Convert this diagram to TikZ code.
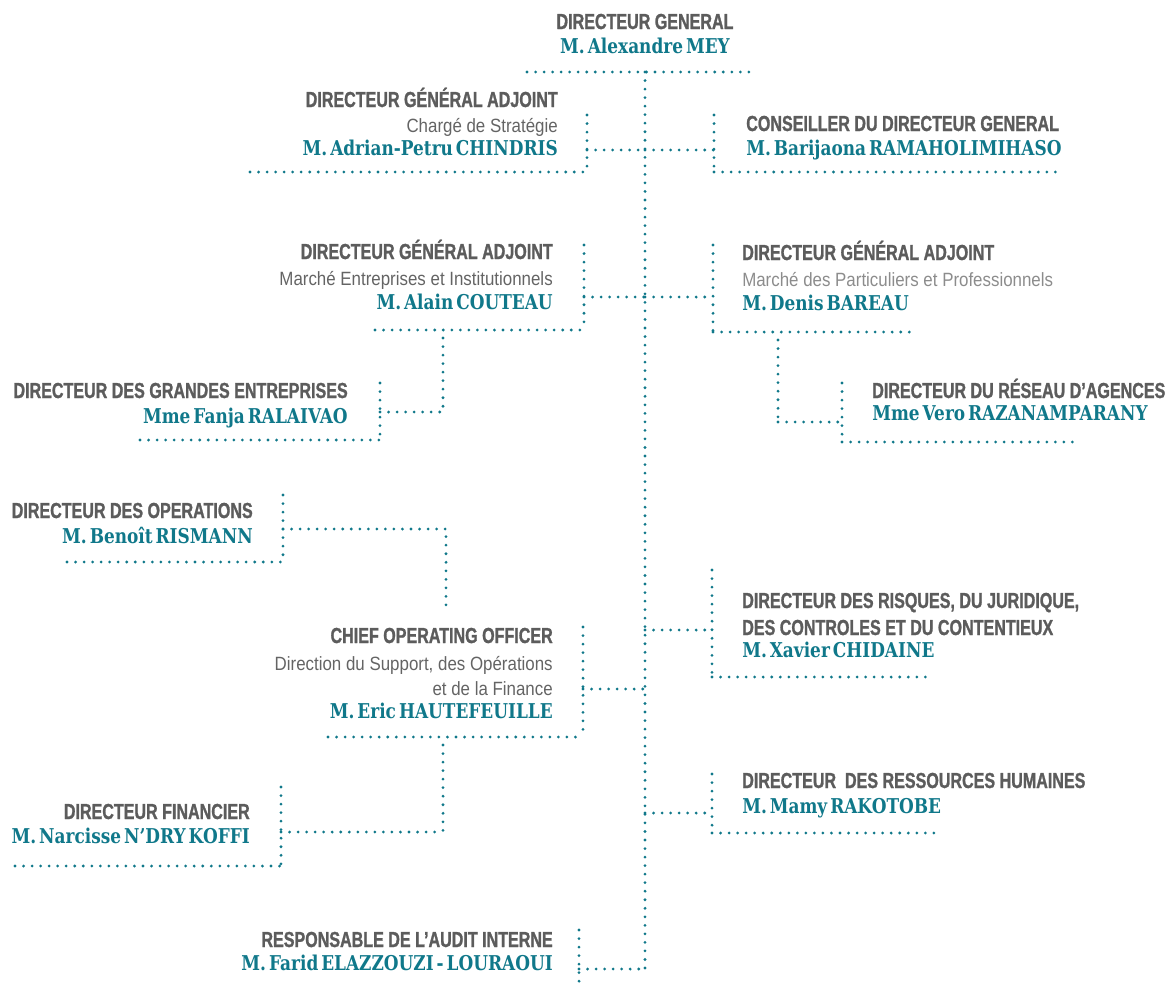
\documentclass[tikz,border=0pt]{standalone}
\usepackage{fontspec}
\newfontfamily\ttlfont[FakeStretch=0.74,FakeBold=1.2]{Liberation Sans Bold}
\newfontfamily\subfont[FakeStretch=0.88]{Liberation Sans}
\newfontfamily\nmfont[FakeStretch=0.83,WordSpace=0.5]{DejaVu Serif}
\definecolor{tealc}{RGB}{16,120,138}
\definecolor{ttlgray}{RGB}{92,92,92}
\definecolor{subgray}{RGB}{100,100,100}
\definecolor{litegray}{RGB}{140,140,140}
\tikzset{
  ttl/.style={inner sep=0pt, text=ttlgray, font=\ttlfont\fontsize{16.3}{18}\selectfont},
  sub/.style={inner sep=0pt, text=subgray, font=\subfont\fontsize{14.4}{16}\selectfont},
  sublite/.style={sub, text=litegray},
  nm/.style={inner sep=0pt, text=tealc, font=\nmfont\bfseries\fontsize{15.3}{17}\selectfont},
  L/.style={anchor=base east},
  R/.style={anchor=base west},
  dl/.style={draw=tealc, line width=2.3pt, dash pattern=on 0pt off 6.4pt, line cap=round}
}
\begin{document}
\begin{tikzpicture}[x=0.75pt,y=-0.75pt]
\useasboundingbox (0,0) rectangle (1167,986);
% ---------- texts ----------
\node[ttl,anchor=base] (dgT) at (645,29) {DIRECTEUR GENERAL};
\node[nm,anchor=base] (dgN) at (645,53) {M. Alexandre MEY};

\node[ttl,L] (a1T) at (558,107) {DIRECTEUR GÉNÉRAL ADJOINT};
\node[sub,L] (a1S) at (558,132) {Chargé de Stratégie};
\node[nm,L] (a1N) at (558,155) {M. Adrian-Petru CHINDRIS};

\node[ttl,R] (cT) at (746,131) {CONSEILLER DU DIRECTEUR GENERAL};
\node[nm,R] (cN) at (746,155) {M. Barijaona RAMAHOLIMIHASO};

\node[ttl,L] (a2T) at (553,259) {DIRECTEUR GÉNÉRAL ADJOINT};
\node[sub,L] (a2S) at (553,285) {Marché Entreprises et Institutionnels};
\node[nm,L] (a2N) at (553,309) {M. Alain COUTEAU};

\node[ttl,R] (a3T) at (742,260) {DIRECTEUR GÉNÉRAL ADJOINT};
\node[sublite,R] (a3S) at (742,286) {Marché des Particuliers et Professionnels};
\node[nm,R] (a3N) at (742,310) {M. Denis BAREAU};

\node[ttl,R] (rT) at (872,398) {DIRECTEUR DU RÉSEAU D’AGENCES};
\node[nm,R] (rN) at (872,420) {Mme Vero RAZANAMPARANY};

\node[ttl,L] (gT) at (348,398) {DIRECTEUR DES GRANDES ENTREPRISES};
\node[nm,L] (gN) at (348,423) {Mme Fanja RALAIVAO};

\node[ttl,L] (oT) at (253,518) {DIRECTEUR DES OPERATIONS};
\node[nm,L] (oN) at (253,543) {M. Benoît RISMANN};

\node[ttl,L] (cooT) at (553,643) {CHIEF OPERATING OFFICER};
\node[sub,L] (cooS1) at (553,670) {Direction du Support, des Opérations};
\node[sub,L] (cooS2) at (553,695) {et de la Finance};
\node[nm,L] (cooN) at (553,718) {M. Eric HAUTEFEUILLE};

\node[ttl,R] (jT1) at (742,608) {DIRECTEUR DES RISQUES, DU JURIDIQUE,};
\node[ttl,R] (jT2) at (742,635) {DES CONTROLES ET DU CONTENTIEUX};
\node[nm,R] (jN) at (742,657) {M. Xavier CHIDAINE};

\node[ttl,L] (fT) at (250,819) {DIRECTEUR FINANCIER};
\node[nm,L] (fN) at (250,843) {M. Narcisse N’DRY KOFFI};

\node[ttl,R] (hT) at (742,788) {DIRECTEUR\ \ DES RESSOURCES HUMAINES};
\node[nm,R] (hN) at (742,813) {M. Mamy RAKOTOBE};

\node[ttl,L] (auT) at (553,947) {RESPONSABLE DE L’AUDIT INTERNE};
\node[nm,L] (auN) at (553,970) {M. Farid ELAZZOUZI - LOURAOUI};

% ---------- coordinates ----------
\coordinate (dgL) at (527,72);
\coordinate (dgR) at (755,72);
\coordinate (mTop) at (645,72);
\coordinate (mBot) at (645,969);
% DGA strategie
\coordinate (a1t) at (587,115); \coordinate (a1b) at (587,172);
\coordinate (a1l) at (250,172); \coordinate (a1c) at (587,150); \coordinate (m1) at (645,150);
% conseiller
\coordinate (ct) at (714,115); \coordinate (cb) at (714,172);
\coordinate (cr) at (1059,172); \coordinate (cc) at (714,150);
% DGA entreprises
\coordinate (a2t) at (584,245); \coordinate (a2b) at (584,330);
\coordinate (a2l) at (375,330); \coordinate (a2c) at (584,297); \coordinate (m2) at (645,297);
\coordinate (a2d) at (443,338); \coordinate (a2e) at (443,412);
% grandes entreprises
\coordinate (gt) at (380,383); \coordinate (gb) at (380,440);
\coordinate (gl) at (140,440); \coordinate (gc) at (380,412);
% DGA particuliers
\coordinate (a3t) at (713,245); \coordinate (a3b) at (713,332);
\coordinate (a3r) at (910,332); \coordinate (a3c) at (713,297);
\coordinate (a3d) at (778,340); \coordinate (a3e) at (778,422);
% reseau
\coordinate (rt) at (842,383); \coordinate (rb) at (842,442);
\coordinate (rr) at (1080,442); \coordinate (rc) at (842,422);
% operations
\coordinate (ot) at (283,495); \coordinate (ob) at (283,562);
\coordinate (ol) at (67,562); \coordinate (oc) at (283,529);
\coordinate (oe) at (446,529); \coordinate (od) at (446,605);
% COO
\coordinate (coot) at (583,627); \coordinate (coob) at (583,737);
\coordinate (cool) at (328,737); \coordinate (cooc) at (583,689); \coordinate (m3) at (645,689);
\coordinate (cood) at (443,745); \coordinate (cooe) at (443,832);
% risques
\coordinate (jt) at (712,570); \coordinate (jb) at (712,677);
\coordinate (jr) at (933,677); \coordinate (jc) at (712,630); \coordinate (m4) at (645,630);
% financier
\coordinate (ft) at (281,787); \coordinate (fb) at (281,866);
\coordinate (fl) at (15,866); \coordinate (fc) at (281,832);
% RH
\coordinate (ht) at (712,774); \coordinate (hb) at (712,833);
\coordinate (hr) at (938,833); \coordinate (hc) at (712,813); \coordinate (m5) at (645,813);
% audit
\coordinate (aut) at (579,930); \coordinate (aub) at (579,985);
\coordinate (auc) at (579,969);

% ---------- dotted connectors ----------
\draw[dl] (dgL) -- (dgR);
\draw[dl] (mTop) -- (mBot);

\draw[dl] (a1t) -- (a1b);
\draw[dl] (a1l) -- (a1b);
\draw[dl] (a1c) -- (m1);

\draw[dl] (ct) -- (cb);
\draw[dl] (cb) -- (cr);
\draw[dl] (m1) -- (cc);

\draw[dl] (a2t) -- (a2b);
\draw[dl] (a2l) -- (a2b);
\draw[dl] (a2c) -- (m2);
\draw[dl] (a2d) -- (a2e);

\draw[dl] (gt) -- (gb);
\draw[dl] (gl) -- (gb);
\draw[dl] (gc) -- (a2e);

\draw[dl] (a3t) -- (a3b);
\draw[dl] (a3b) -- (a3r);
\draw[dl] (m2) -- (a3c);
\draw[dl] (a3d) -- (a3e);
\draw[dl] (a3e) -- (rc);

\draw[dl] (rt) -- (rb);
\draw[dl] (rb) -- (rr);

\draw[dl] (ot) -- (ob);
\draw[dl] (ol) -- (ob);
\draw[dl] (oc) -- (oe) -- (od);

\draw[dl] (coot) -- (coob);
\draw[dl] (cool) -- (coob);
\draw[dl] (cooc) -- (m3);
\draw[dl] (cood) -- (cooe);

\draw[dl] (jt) -- (jb);
\draw[dl] (jb) -- (jr);
\draw[dl] (m4) -- (jc);

\draw[dl] (ft) -- (fb);
\draw[dl] (fl) -- (fb);
\draw[dl] (fc) -- (cooe);

\draw[dl] (ht) -- (hb);
\draw[dl] (hb) -- (hr);
\draw[dl] (m5) -- (hc);

\draw[dl] (aut) -- (aub);
\draw[dl] (auc) -- (mBot);
\end{tikzpicture}
\end{document}
